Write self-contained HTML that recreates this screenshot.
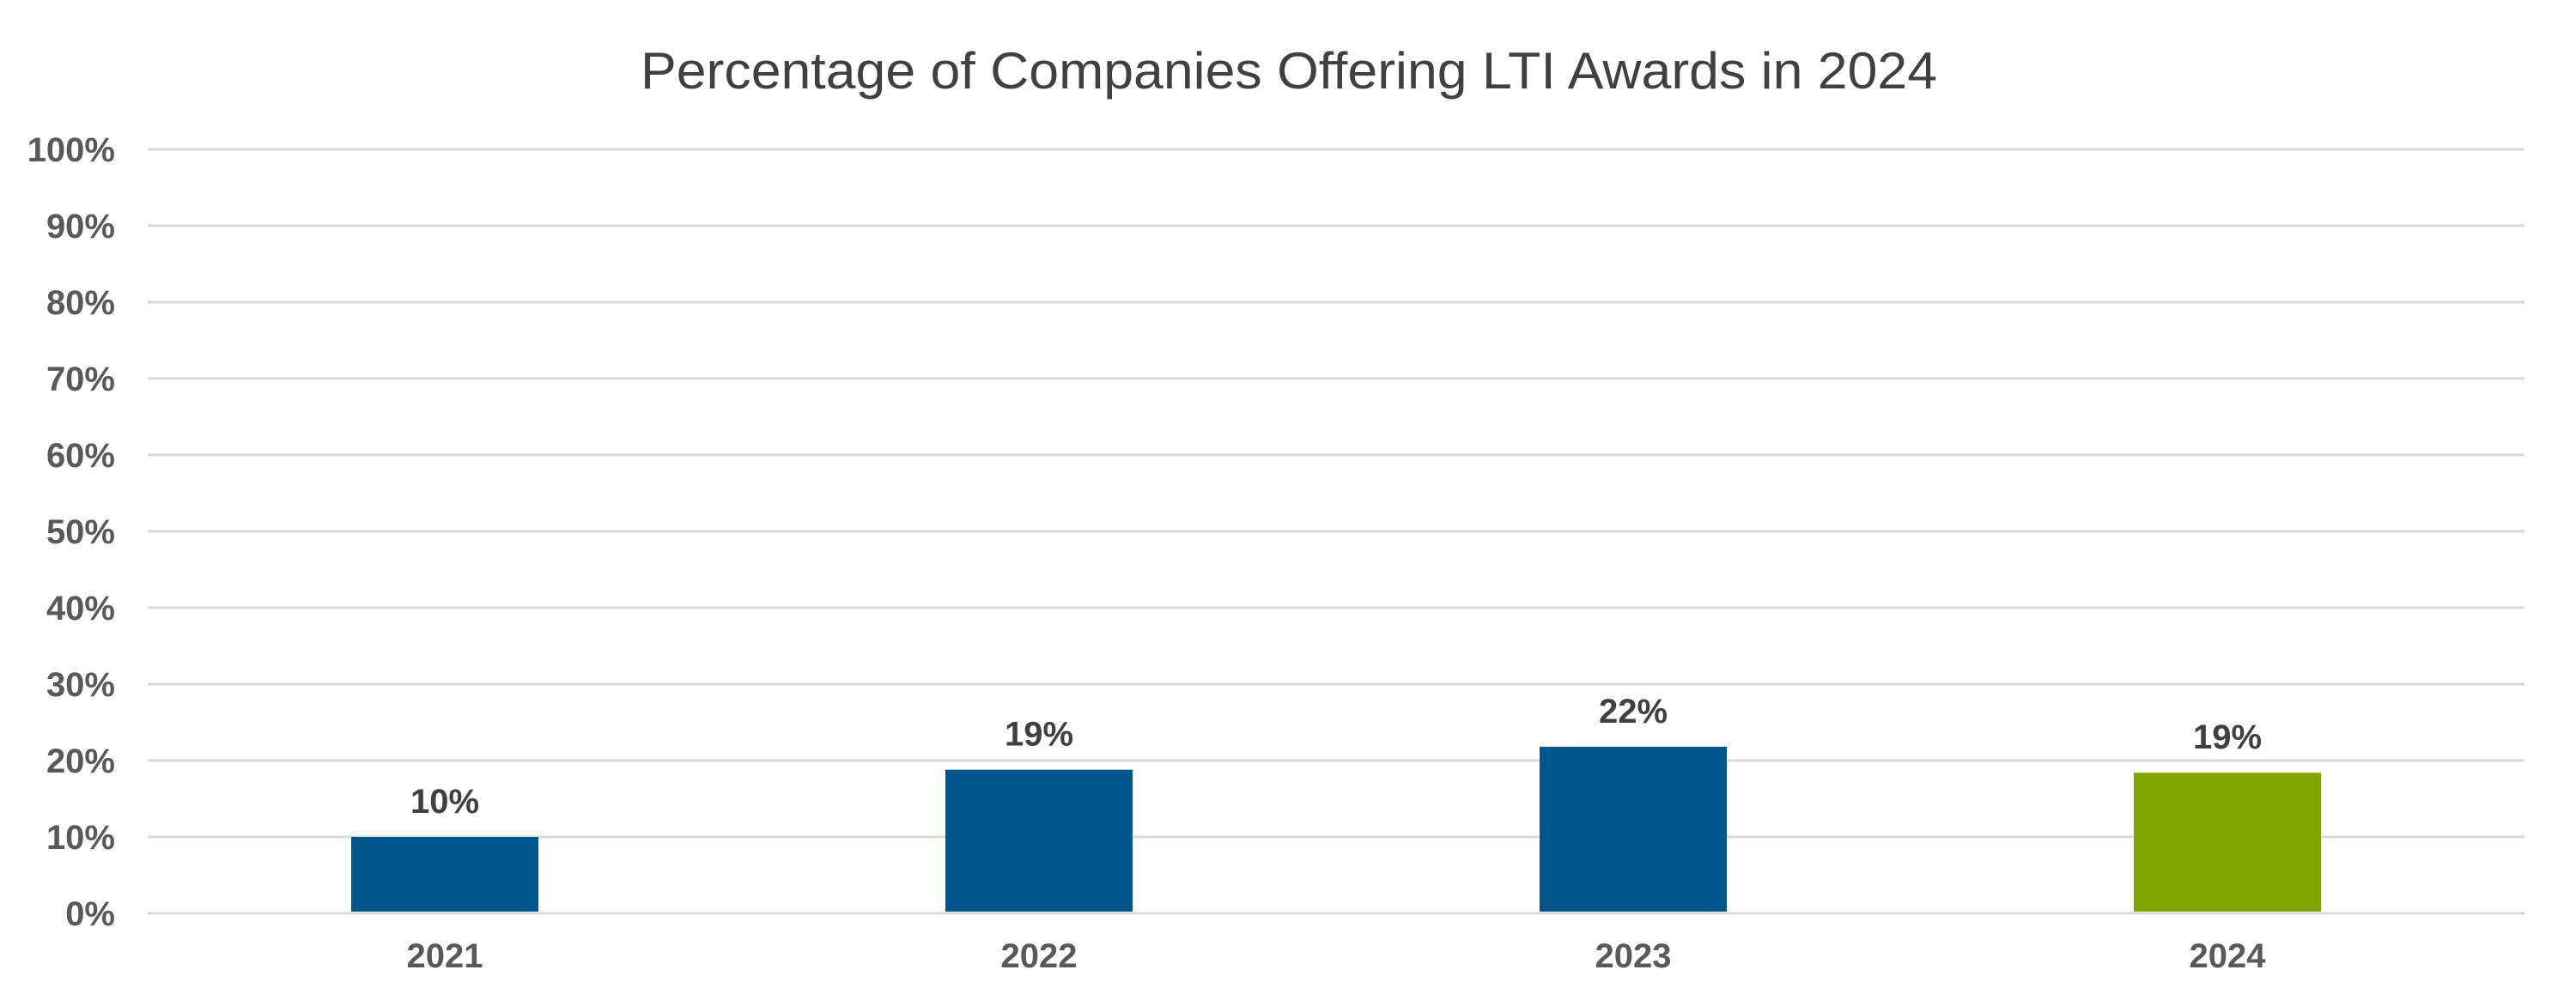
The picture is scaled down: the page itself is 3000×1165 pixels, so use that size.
<!DOCTYPE html>
<html><head><meta charset="utf-8"><style>
html,body{margin:0;padding:0;background:#fff;}
svg{display:block;}
</style></head><body>
<svg id="chart" width="3000" height="1165" viewBox="0 0 3000 1165" xmlns="http://www.w3.org/2000/svg">
<rect width="3000" height="1165" fill="#fff"/>
<text x="1501" y="103" text-anchor="middle" font-family="Liberation Sans, sans-serif" font-size="60" fill="#404040" textLength="1510" lengthAdjust="spacingAndGlyphs">Percentage of Companies Offering LTI Awards in 2024</text>
<g id="grid"></g><g id="bars"></g><g id="labels"></g>
</svg>
<script>
const categories = ["2021","2022","2023","2024"];
const values = [10, 18.8, 21.8, 18.4];
const valueLabels = ["10%","19%","22%","19%"];
const yTicks = [0,10,20,30,40,50,60,70,80,90,100];
const barColors = ["#00568a","#00568a","#00568a","#80a500"];

const NS="http://www.w3.org/2000/svg";
const plotL=172, plotR=2940, y0=1064, y100=174;
function yScale(v){return y0-(v/100)*(y0-y100);}
const band=(plotR-plotL)/categories.length;
function xCenter(i){return plotL+band*(i+0.5);}
const barW=band*0.315;
function mk(tag,attrs,parent){const e=document.createElementNS(NS,tag);for(const k in attrs)e.setAttribute(k,attrs[k]);parent.appendChild(e);return e;}
const grid=document.getElementById('grid'),bars=document.getElementById('bars'),labels=document.getElementById('labels');
yTicks.forEach(t=>{
  const l=mk('line',{x1:plotL,x2:plotR,y1:yScale(t),y2:yScale(t),stroke:'#d9d9d9','stroke-width':3},grid);
  
  
  const tx=mk('text',{x:134,y:yScale(t)+14,'text-anchor':'end','font-family':'Liberation Sans, sans-serif','font-size':40,'font-weight':'bold',fill:'#595959'},labels);
  tx.textContent=t+'%';
  
  
});
categories.forEach((c,i)=>{
  const top=yScale(values[i]);
  const r=mk('rect',{x:xCenter(i)-barW/2,y:top,width:barW,height:y0-2-top,fill:barColors[i]},bars);
  
  
  const v=mk('text',{x:xCenter(i),y:top-28,'text-anchor':'middle','font-family':'Liberation Sans, sans-serif','font-size':40,'font-weight':'bold',fill:'#404040'},labels);
  v.textContent=valueLabels[i];
  
  
  const xl=mk('text',{x:xCenter(i),y:1127,'text-anchor':'middle','font-family':'Liberation Sans, sans-serif','font-size':40,'font-weight':'bold',fill:'#595959'},labels);
  xl.textContent=c;
  
  
});
</script>
</body></html>
